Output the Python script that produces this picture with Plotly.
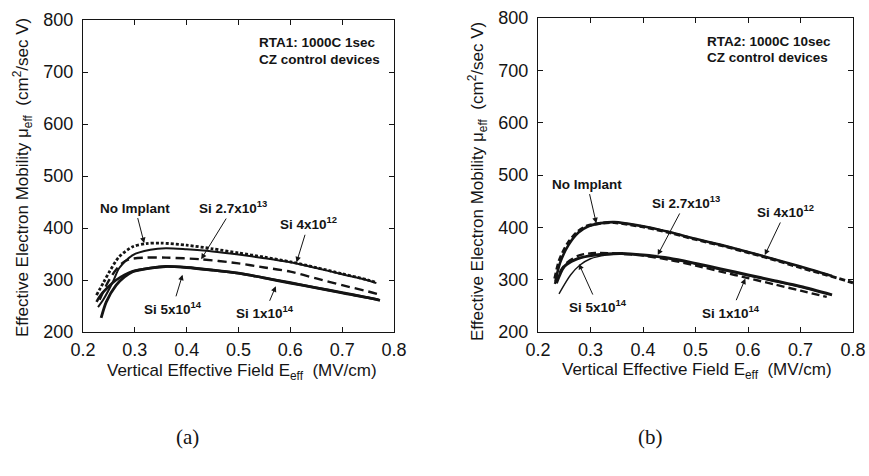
import plotly.graph_objects as go

# ---- (a) RTA1: 1000C 1sec ----
E_a_none = [0.226, 0.24, 0.251, 0.27, 0.296, 0.322, 0.35, 0.40, 0.45, 0.50, 0.55, 0.60, 0.65, 0.70, 0.75, 0.766]
mu_a_none = [271, 296, 316, 345, 364, 370, 371, 367, 360, 352, 344, 335, 324, 312, 300, 295]

E_a_4e12 = [0.229, 0.239, 0.258, 0.27, 0.296, 0.33, 0.36, 0.40, 0.45, 0.50, 0.55, 0.60, 0.65, 0.70, 0.75, 0.766]
mu_a_4e12 = [248, 262, 297, 323, 348, 358, 361, 359, 355, 349, 342, 334, 323, 311, 299, 294]

E_a_27e13 = [0.232, 0.245, 0.26, 0.275, 0.29, 0.32, 0.36, 0.425, 0.50, 0.55, 0.60, 0.65, 0.70, 0.75, 0.768]
mu_a_27e13 = [262, 290, 315, 332, 340, 343, 343, 340, 332, 324, 316, 303, 290, 278, 273]

E_a_1e14 = [0.235, 0.245, 0.264, 0.28, 0.296, 0.33, 0.36, 0.40, 0.45, 0.50, 0.55, 0.60, 0.65, 0.70, 0.75, 0.773]
mu_a_1e14 = [227, 258, 290, 306, 316, 323, 326, 324, 319, 313, 304, 294, 285, 275, 266, 261]

E_a_5e14 = [0.226, 0.235, 0.25, 0.264, 0.28, 0.296, 0.33, 0.36, 0.40, 0.45, 0.50, 0.55, 0.60, 0.65, 0.70, 0.75, 0.77]
mu_a_5e14 = [258, 272, 288, 300, 310, 317, 323, 326, 324, 319, 313, 304, 295, 285, 276, 266, 262]

# ---- (b) RTA2: 1000C 10sec ----
E_b_none = [0.232, 0.241, 0.257, 0.276, 0.295, 0.32, 0.345, 0.40, 0.45, 0.50, 0.55, 0.60, 0.65, 0.70, 0.75, 0.80]
mu_b_none = [302, 338, 370, 392, 403, 408, 409, 401, 390, 377, 365, 352, 338, 323, 309, 294]

E_b_4e12 = [0.233, 0.242, 0.258, 0.277, 0.296, 0.32, 0.345, 0.40, 0.45, 0.50, 0.55, 0.60, 0.65, 0.70, 0.76]
mu_b_4e12 = [296, 332, 366, 390, 402, 408, 410, 402, 391, 378, 366, 353, 339, 325, 307]

E_b_27e13 = [0.232, 0.245, 0.257, 0.28, 0.31, 0.35, 0.40, 0.45, 0.50, 0.55, 0.60, 0.65, 0.70, 0.75]
mu_b_27e13 = [292, 320, 334, 347, 351, 350, 346, 338, 327, 315, 303, 291, 279, 267]

E_b_1e14 = [0.235, 0.25, 0.27, 0.295, 0.33, 0.36, 0.40, 0.45, 0.50, 0.55, 0.60, 0.65, 0.70, 0.76]
mu_b_1e14 = [293, 325, 338, 345, 349, 350, 347, 341, 331, 320, 309, 298, 287, 271]

E_b_5e14 = [0.24, 0.262, 0.28, 0.30, 0.33, 0.36, 0.40, 0.45, 0.50, 0.55, 0.60, 0.65, 0.70, 0.76]
mu_b_5e14 = [273, 309, 328, 340, 347, 349, 347, 340, 330, 319, 308, 297, 286, 271]

x_ticks = [0.2, 0.3, 0.4, 0.5, 0.6, 0.7, 0.8]
y_ticks = [200, 300, 400, 500, 600, 700, 800]

INK = "#141414"
SANS = "Liberation Sans, Arial, sans-serif"
W, H = 869, 476


def px(xp, yp):
    """Pixel position -> paper fraction."""
    return xp / W, 1 - yp / H


fig = go.Figure()


def curve(x, y, axis, width, dash="solid"):
    xa, ya = axis
    fig.add_trace(go.Scatter(
        x=x, y=y, mode="lines", xaxis=xa, yaxis=ya,
        line=dict(color=INK, width=width, dash=dash, shape="spline", smoothing=0.8),
        showlegend=False, hoverinfo="skip"))


A = ("x", "y")
B = ("x2", "y2")

curve(E_a_5e14, mu_a_5e14, A, 2.6)
curve(E_a_1e14, mu_a_1e14, A, 2.8)
curve(E_a_27e13, mu_a_27e13, A, 2.4, "9px,5px")
curve(E_a_4e12, mu_a_4e12, A, 2.0)
curve(E_a_none, mu_a_none, A, 2.8, "3px,2px")

curve(E_b_5e14, mu_b_5e14, B, 1.4)
curve(E_b_1e14, mu_b_1e14, B, 3.0)
curve(E_b_27e13, mu_b_27e13, B, 2.4, "8px,4px")
curve(E_b_4e12, mu_b_4e12, B, 2.6)
curve(E_b_none, mu_b_none, B, 3.0, "6px,3px")

axis_style = dict(
    showline=True, linecolor=INK, linewidth=1.3, mirror="allticks",
    ticks="inside", ticklen=5, tickwidth=1, tickcolor=INK,
    showgrid=False, zeroline=False, automargin=False,
    tickfont=dict(family=SANS, size=18, color=INK),
)

fig.update_layout(
    template="none",
    width=W, height=H,
    margin=dict(l=0, r=0, t=0, b=0),
    paper_bgcolor="white", plot_bgcolor="white",
    showlegend=False,
    xaxis=dict(domain=[83 / W, 394 / W], range=[0.2, 0.8], tickvals=x_ticks,
               ticktext=[f"{v:.1f}" for v in x_ticks], anchor="y",
               ticklabelstandoff=1, **axis_style),
    yaxis=dict(domain=[1 - 332 / H, 1 - 20 / H], range=[200, 800], tickvals=y_ticks,
               anchor="x", ticklabelstandoff=5, **axis_style),
    xaxis2=dict(domain=[538 / W, 853 / W], range=[0.2, 0.8], tickvals=x_ticks,
                ticktext=[f"{v:.1f}" for v in x_ticks], anchor="y2",
                ticklabelstandoff=1, **axis_style),
    yaxis2=dict(domain=[1 - 332 / H, 1 - 18 / H], range=[200, 800], tickvals=y_ticks,
                anchor="x2", ticklabelstandoff=5, **axis_style),
)

ann = []
LABEL_FONT = dict(family=SANS, size=13.5, color=INK, weight="bold")


def pointer(text, xref, yref, x, y, ax, ay):
    ann.append(dict(
        text=text, xref=xref, yref=yref, x=x, y=y, ax=ax, ay=ay,
        showarrow=True, arrowhead=2, arrowsize=1.1, arrowwidth=1, arrowcolor=INK,
        font=LABEL_FONT, standoff=0, startstandoff=1))


# panel (a) labels
pointer("No Implant", "x", "y", 0.318, 371, -9, -35)
pointer("Si 2.7x10<sup>13</sup>", "x", "y", 0.428, 340, 32, -52)
pointer("Si 4x10<sup>12</sup>", "x", "y", 0.612, 334, 12, -39)
pointer("Si 5x10<sup>14</sup>", "x", "y", 0.392, 310, -10, 33)
pointer("Si 1x10<sup>14</sup>", "x", "y", 0.572, 288, -11, 26)

# panel (b) labels
pointer("No Implant", "x2", "y2", 0.311, 408, -9, -39)
pointer("Si 2.7x10<sup>13</sup>", "x2", "y2", 0.428, 347, 28, -53)
pointer("Si 4x10<sup>12</sup>", "x2", "y2", 0.632, 347, 21, -44)
pointer("Si 5x10<sup>14</sup>", "x2", "y2", 0.278, 330, 19, 42)
pointer("Si 1x10<sup>14</sup>", "x2", "y2", 0.595, 302, -14, 33)


def text_at(text, xp, yp, font, xanchor="center", yanchor="middle", angle=0):
    fx, fy = px(xp, yp)
    ann.append(dict(text=text, xref="paper", yref="paper", x=fx, y=fy,
                    xanchor=xanchor, yanchor=yanchor, textangle=angle,
                    showarrow=False, font=font))


# condition boxes
text_at("RTA1: 1000C 1sec", 257, 42, LABEL_FONT, xanchor="left")
text_at("CZ control devices", 257, 59, LABEL_FONT, xanchor="left")
text_at("RTA2: 1000C 10sec", 705, 41, LABEL_FONT, xanchor="left")
text_at("CZ control devices", 705, 57, LABEL_FONT, xanchor="left")

# axis titles
TITLE_FONT = dict(family=SANS, size=17, color=INK)
ytitle = "Effective Electron Mobility \u03bc<sub>eff</sub>&nbsp;&nbsp;(cm<sup>2</sup>/sec V)"
xtitle = "Vertical Effective Field E<sub>eff</sub>&nbsp;&nbsp;(MV/cm)"
text_at(ytitle, 22, 178, TITLE_FONT, angle=-90)
text_at(ytitle, 477, 182, TITLE_FONT, angle=-90)
text_at(xtitle, 242, 372, TITLE_FONT)
text_at(xtitle, 697, 371, TITLE_FONT)

# panel captions
CAP_FONT = dict(family="Liberation Serif, Times New Roman, serif", size=21, color=INK)
text_at("(a)", 187, 437, CAP_FONT)
text_at("(b)", 650, 437, CAP_FONT)

fig.update_layout(annotations=ann)
fig.write_html("out.html")
